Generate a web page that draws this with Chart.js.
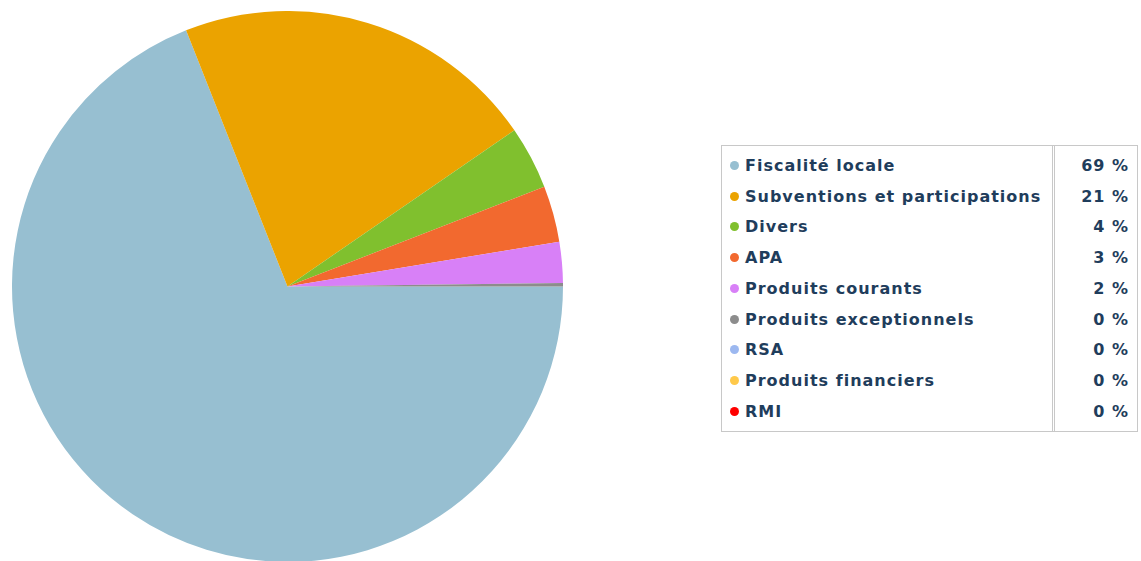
<!DOCTYPE html>
<html>
<head>
<meta charset="utf-8">
<script src="https://cdn.jsdelivr.net/npm/chart.js@4/dist/chart.umd.min.js"></script>
<style>
  html, body { margin: 0; padding: 0; background: #ffffff; overflow: hidden; }
  body { width: 1141px; height: 561px; position: relative; }
  #pieBox { position: absolute; left: 12px; top: 11px; width: 551px; height: 551px; }
  #legend {
    position: absolute; left: 721px; top: 145px; width: 417px; height: 287px;
    border: 1px solid #c8c8c8; box-sizing: border-box; padding: 4px 0;
    font-family: "DejaVu Sans", sans-serif; font-weight: bold; font-size: 16px;
    letter-spacing: 1px; color: #1f3d5c;
  }
  #legend .divider { position: absolute; left: 330px; top: 0; bottom: 0; width: 0; border-left: 3px double #c8c8c8; }
  #legend .row { display: flex; align-items: center; height: 30.75px; white-space: nowrap; }
  #legend .name { padding-left: 8px; width: 322px; display: flex; align-items: center; }
  #legend .pct { flex: 1; text-align: right; padding-right: 8px; }
  #legend .dot { display: inline-block; width: 9px; height: 9px; border-radius: 50%; margin-right: 6px; flex: none; }
</style>
</head>
<body>
<div id="pieBox"><canvas id="pie"></canvas></div>
<div id="legend"><div class="divider"></div></div>
<script>
// Recettes par poste, en % du total
const categories = [
  "Fiscalité locale",
  "Subventions et participations",
  "Divers",
  "APA",
  "Produits courants",
  "Produits exceptionnels",
  "RSA",
  "Produits financiers",
  "RMI"
];
const shares = [69.0, 21.4, 3.7, 3.3, 2.4, 0.2, 0, 0, 0];
const colors = [
  "#97bfd1", "#eba300", "#80c02e", "#f2692f", "#d880f7",
  "#8c8c8c", "#9cb8f0", "#ffc94a", "#ff0000"
];

new Chart(document.getElementById("pie"), {
  type: "pie",
  data: {
    labels: categories,
    datasets: [{
      data: shares,
      backgroundColor: colors,
      borderWidth: 0
    }]
  },
  options: {
    responsive: true,
    maintainAspectRatio: false,
    animation: false,
    rotation: 90,
    layout: { padding: 0 },
    plugins: {
      legend: { display: false },
      tooltip: { enabled: false }
    }
  }
});

// Légende : pastille, libellé, pourcentage arrondi
const legend = document.getElementById("legend");
categories.forEach((name, i) => {
  const row = document.createElement("div");
  row.className = "row";
  const nameCell = document.createElement("div");
  nameCell.className = "name";
  const dot = document.createElement("span");
  dot.className = "dot";
  dot.style.background = colors[i];
  const label = document.createElement("span");
  label.textContent = name;
  nameCell.appendChild(dot);
  nameCell.appendChild(label);
  const pct = document.createElement("div");
  pct.className = "pct";
  pct.textContent = Math.round(shares[i]) + " %";
  row.appendChild(nameCell);
  row.appendChild(pct);
  legend.appendChild(row);
});
</script>
</body>
</html>
